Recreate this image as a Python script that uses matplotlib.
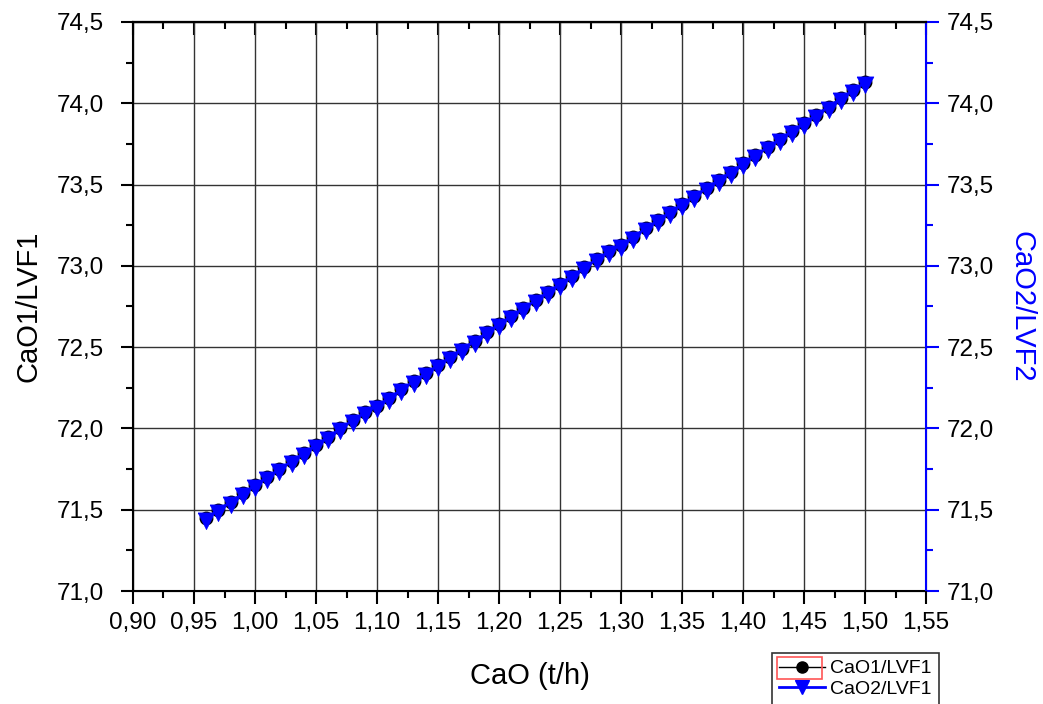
import matplotlib
matplotlib.use("Agg")
import matplotlib.pyplot as plt
from matplotlib.ticker import MultipleLocator, FuncFormatter, NullFormatter
from matplotlib.lines import Line2D
from matplotlib.patches import Rectangle

plt.rcParams['font.family'] = ['Liberation Sans', 'DejaVu Sans']

cao = [0.96, 0.97, 0.98, 0.99, 1.00, 1.01, 1.02, 1.03, 1.04, 1.05,
       1.06, 1.07, 1.08, 1.09, 1.10, 1.11, 1.12, 1.13, 1.14, 1.15,
       1.16, 1.17, 1.18, 1.19, 1.20, 1.21, 1.22, 1.23, 1.24, 1.25,
       1.26, 1.27, 1.28, 1.29, 1.30, 1.31, 1.32, 1.33, 1.34, 1.35,
       1.36, 1.37, 1.38, 1.39, 1.40, 1.41, 1.42, 1.43, 1.44, 1.45,
       1.46, 1.47, 1.48, 1.49, 1.50]
lvf1 = [71.45, 71.50, 71.55, 71.60, 71.65, 71.70, 71.75, 71.80, 71.85, 71.90,
        71.95, 72.00, 72.05, 72.10, 72.14, 72.19, 72.24, 72.29, 72.34, 72.39,
        72.44, 72.49, 72.54, 72.59, 72.64, 72.69, 72.74, 72.79, 72.84, 72.89,
        72.94, 72.99, 73.04, 73.09, 73.13, 73.18, 73.23, 73.28, 73.33, 73.38,
        73.43, 73.48, 73.53, 73.58, 73.63, 73.68, 73.73, 73.78, 73.83, 73.88,
        73.93, 73.98, 74.03, 74.08, 74.13]
lvf2 = [71.45, 71.50, 71.55, 71.60, 71.65, 71.70, 71.75, 71.80, 71.85, 71.90,
        71.95, 72.00, 72.05, 72.10, 72.14, 72.19, 72.24, 72.29, 72.34, 72.39,
        72.44, 72.49, 72.54, 72.59, 72.64, 72.69, 72.74, 72.79, 72.84, 72.89,
        72.94, 72.99, 73.04, 73.09, 73.13, 73.18, 73.23, 73.28, 73.33, 73.38,
        73.43, 73.48, 73.53, 73.58, 73.63, 73.68, 73.73, 73.78, 73.83, 73.88,
        73.93, 73.98, 74.03, 74.08, 74.13]

# down triangle centred on its centroid (as Origin draws it)
tri = [(-1.0, 0.667), (1.0, 0.667), (0.0, -1.333), (-1.0, 0.667)]

fig = plt.figure(figsize=(10.43, 7.04), dpi=100)
ax = fig.add_axes([0.1275, 0.1605, 0.7605, 0.8083])
ax2 = ax.twinx()

ax.set_xlim(0.90, 1.55)
ax.set_ylim(71.0, 74.5)
ax2.set_ylim(71.0, 74.5)

ax.plot(cao, lvf1, color='black', marker='o', markersize=9, linewidth=1, zorder=3)
ax2.plot(cao, lvf2, color='blue', marker=tri, markersize=16, linewidth=1.5,
         markeredgecolor='blue', markeredgewidth=0.5, zorder=4)

comma = FuncFormatter(lambda v, p: f"{v:.2f}".replace('.', ','))
comma1 = FuncFormatter(lambda v, p: f"{v:.1f}".replace('.', ','))

ax.xaxis.set_major_locator(MultipleLocator(0.05))
ax.xaxis.set_minor_locator(MultipleLocator(0.025))
ax.yaxis.set_major_locator(MultipleLocator(0.5))
ax.yaxis.set_minor_locator(MultipleLocator(0.25))
ax2.yaxis.set_major_locator(MultipleLocator(0.5))
ax2.yaxis.set_minor_locator(MultipleLocator(0.25))
ax.xaxis.set_major_formatter(comma)
ax.yaxis.set_major_formatter(comma1)
ax2.yaxis.set_major_formatter(comma1)

ax.grid(True, which='major', color='#333333', linewidth=1.0)
ax.set_axisbelow(True)

ax.tick_params(axis='both', which='major', direction='out', length=9, width=1.5,
               labelsize=17.5)
ax.tick_params(axis='both', which='minor', direction='out', length=5, width=1.5)
ax.tick_params(axis='y', which='major', pad=12)
ax.tick_params(axis='x', which='major', pad=6)
for sp in ['left', 'bottom', 'top']:
    ax.spines[sp].set_linewidth(1.5)
ax2.spines['right'].set_color('blue')
ax2.spines['right'].set_linewidth(1.5)
ax2.spines['left'].set_visible(False)
ax2.spines['top'].set_linewidth(1.5)
ax2.tick_params(axis='y', which='major', direction='out', length=9, width=1.5,
                color='blue', labelcolor='black', labelsize=17.5, pad=6)
ax2.tick_params(axis='y', which='minor', direction='out', length=5, width=1.5,
                color='blue')

top = ax.secondary_xaxis('top')
top.xaxis.set_major_locator(MultipleLocator(0.05))
top.xaxis.set_minor_locator(MultipleLocator(0.025))
top.xaxis.set_major_formatter(NullFormatter())
top.tick_params(axis='x', which='major', direction='in', length=9, width=1.5)
top.tick_params(axis='x', which='minor', direction='in', length=5, width=1.5)
top.spines['top'].set_linewidth(1.5)

ax.set_xlabel('CaO (t/h)', fontsize=21, labelpad=20)
ax.set_ylabel('CaO1/LVF1', fontsize=21, labelpad=10)
ax2.set_ylabel('CaO2/LVF2', fontsize=21, color='blue', rotation=-90, labelpad=30)

h1 = Line2D([], [], color='black', marker='o', markersize=8, linewidth=1)
h2 = Line2D([], [], color='blue', marker='v', markersize=10, linewidth=2)
leg = fig.legend([h1, h2], ['CaO1/LVF1', 'CaO2/LVF1'], loc='upper left',
                 bbox_to_anchor=(772 / 1043, 1 - 653 / 704), fontsize=14,
                 frameon=True, fancybox=False, edgecolor='black',
                 handlelength=2.4, handletextpad=0.25, borderpad=0.35,
                 labelspacing=0.15, borderaxespad=0.0)
leg.get_frame().set_linewidth(1.2)

# red selection frame around the first legend handle
fig.patches.append(Rectangle((777 / 1043, 1 - 679 / 704), 45 / 1043, 22 / 704,
                             transform=fig.transFigure, fill=False,
                             edgecolor='#ff5555', linewidth=1.2, zorder=10))

fig.savefig('out.png', dpi=100)
